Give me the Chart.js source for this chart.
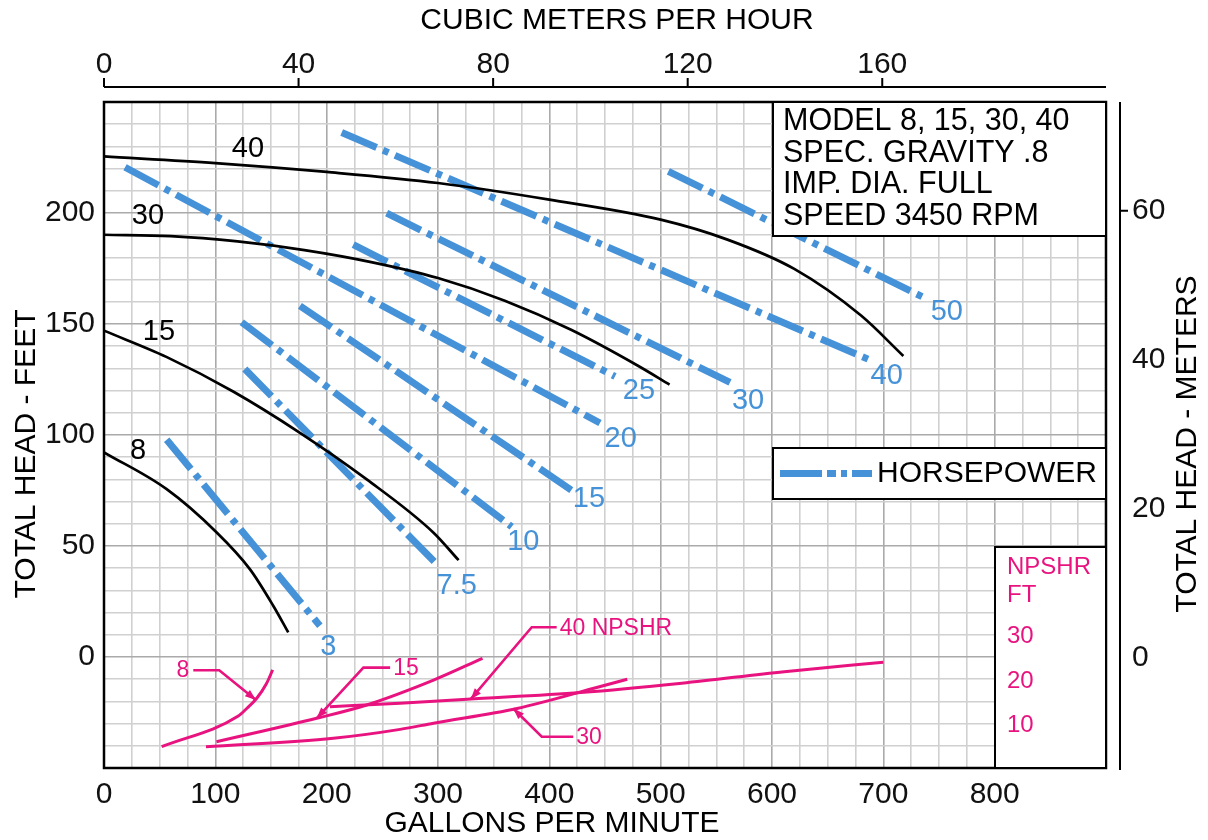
<!DOCTYPE html>
<html><head><meta charset="utf-8">
<script src="https://cdn.jsdelivr.net/npm/chart.js@4.4.1/dist/chart.umd.min.js"></script>
<style>html,body{margin:0;padding:0;background:#fff;}canvas{display:block;}</style>
</head><body>
<canvas id="c" width="1208" height="840"></canvas>
<script>
// ---------------- DATA ----------------
const gpmTickLabels = [0, 100, 200, 300, 400, 500, 600, 700, 800];
const feetTickLabels = [0, 50, 100, 150, 200];
const m3hTickLabels = [0, 40, 80, 120, 160];
const meterTickLabels = [0, 20, 40, 60];
const npshrTickLabels = [30, 20, 10];

// Head curves: [GPM, feet]
const head8  = [[0,92.2],[56,75.7],[101,56.2],[131,39.6],[152,23.1],[165.5,11.1]];
const head15 = [[0,147],[56,135.2],[116,119.6],[176,101],[236,80],[296,56],[318.5,43.6]];
const head30 = [[0,190.2],[60,189.6],[120,187.2],[180,183.3],[240,177.9],[300,170.7],[360,160.5],[420,147.3],[480,131.1],[508,122.7]];
const head40 = [[0,225.5],[100,222.5],[200,218.5],[300,213.5],[400,206],[500,197],[560,188],[620,174.8],[680,153.8],[718,135.6]];
const headNames = ['8', '15', '30', '40'];
const headLabelPos = [[30.5,92.9],[49.4,146.4],[39.5,198.8],[129.3,228.8]];

// Horsepower lines: start / end [GPM, feet]
const hpNames    = ['3','7.5','10','15','20','25','30','40','50'];
const hpStart    = [[56.3,97.9],[126.5,129.7],[123.7,150.8],[176,158.2],[18.9,220.6],[223.9,185.7],[253.9,199.9],[213.5,236.3],[506.9,218.8]];
const hpEnd      = [[193.9,14.1],[300.3,41.1],[366.2,58.7],[420,75.1],[445.5,105.4],[459,126.4],[562.3,123.7],[688,133.8],[738.9,161.3]];
const hpLabelPos = [[201.5,4.4],[316.8,32.1],[376.6,51.7],[435.6,71.2],[464.1,98.2],[480.5,120],[578.5,115.3],[703,126.7],[757,155.4]];

// NPSHR curves: [GPM, NPSHR ft]
const npshr8  = [[51.8,4.8],[120.6,11.7],[128.2,13.4],[137.2,15.7],[146.1,19.1],[151.5,22.1]];
const npshr15 = [[101,5.9],[191,11.2],[236,14.2],[296,19.8],[340,24.7]];
const npshr30 = [[91.6,4.8],[206,6.7],[266,8.7],[296,10.1],[371,13.4],[445,18.3],[470,20]];
const npshr40 = [[203,13.8],[266,14.6],[326,15.5],[428,17],[519,19.1],[611,21.7],[700,23.8]];

// NPSHR leader lines: [GPM, NPSHR ft]
const leaderNames = ['8', '15', '40 NPSHR', '30'];
const leader8  = [[80.2,22.0],[103.5,22.0],[136.5,15.3]];
const leader15 = [[257,22.6],[233,22.6],[191,11.2]];
const leader40 = [[406.6,31.7],[384.2,31.7],[329.4,15.5]];
const leader30 = [[421.5,7.05],[393.2,7.05],[367.6,13.4]];

const infoLines = ['MODEL 8, 15, 30, 40', 'SPEC. GRAVITY .8', 'IMP. DIA. FULL', 'SPEED 3450 RPM'];

// ---------------- STYLE ----------------
const FONT = 'Liberation Sans, Arial, Helvetica, sans-serif';
const BLUE = '#4592d8';
const PINK = '#e8137f';
const HP_DASH = [38, 7, 6, 7];

const pts = a => a.map(p => ({x: p[0], y: p[1]}));

const datasets = [];
[head8, head15, head30, head40].forEach(h => datasets.push({
  data: pts(h), borderColor: '#000', borderWidth: 2.7, pointRadius: 0,
  cubicInterpolationMode: 'monotone', yAxisID: 'y', xAxisID: 'x'
}));
hpStart.forEach((s, i) => datasets.push({
  data: pts([s, hpEnd[i]]), borderColor: BLUE, borderWidth: 7, pointRadius: 0,
  borderDash: HP_DASH, borderCapStyle: 'butt', yAxisID: 'y', xAxisID: 'x'
}));
[npshr8, npshr15, npshr30, npshr40].forEach(n => datasets.push({
  data: pts(n), borderColor: PINK, borderWidth: 3, pointRadius: 0,
  cubicInterpolationMode: 'monotone', yAxisID: 'yN', xAxisID: 'x'
}));
const leaders = [leader8, leader15, leader40, leader30];
leaders.forEach(l => datasets.push({
  data: pts(l), borderColor: PINK, borderWidth: 2.6, pointRadius: 0,
  tension: 0, yAxisID: 'yN', xAxisID: 'x'
}));

const decor = {
  id: 'decor',
  afterDatasetsDraw(chart) {
    const ctx = chart.ctx, a = chart.chartArea;
    const sx = chart.scales.x, sy = chart.scales.y, sn = chart.scales.yN, st = chart.scales.xTop, sm = chart.scales.yM;
    ctx.save();
    // arrowheads on leaders
    ctx.fillStyle = PINK;
    leaders.forEach(l => {
      const p1 = l[l.length - 2], p2 = l[l.length - 1];
      const x1 = sx.getPixelForValue(p1[0]), y1 = sn.getPixelForValue(p1[1]);
      const x2 = sx.getPixelForValue(p2[0]), y2 = sn.getPixelForValue(p2[1]);
      const ang = Math.atan2(y2 - y1, x2 - x1);
      ctx.save(); ctx.translate(x2, y2); ctx.rotate(ang);
      ctx.beginPath(); ctx.moveTo(0, 0); ctx.lineTo(-11, -4); ctx.lineTo(-11, 4); ctx.closePath(); ctx.fill();
      ctx.restore();
    });
    // leader labels
    ctx.font = '23px ' + FONT; ctx.textBaseline = 'middle';
    leaders.forEach((l, i) => {
      const p = l[0];
      const x = sx.getPixelForValue(p[0]), y = sn.getPixelForValue(p[1]);
      if (i === 0) { ctx.textAlign = 'right'; ctx.fillText(leaderNames[i], x - 4, y); }
      else { ctx.textAlign = 'left'; ctx.fillText(leaderNames[i], x + 3, y + 1); }
    });
    // HP labels
    ctx.fillStyle = BLUE; ctx.font = '29px ' + FONT; ctx.textAlign = 'center';
    hpNames.forEach((n, i) => ctx.fillText(n, sx.getPixelForValue(hpLabelPos[i][0]), sy.getPixelForValue(hpLabelPos[i][1])));
    // head labels
    ctx.fillStyle = '#000'; ctx.font = '29px ' + FONT;
    headNames.forEach((n, i) => ctx.fillText(n, sx.getPixelForValue(headLabelPos[i][0]), sy.getPixelForValue(headLabelPos[i][1])));

    // frame
    ctx.strokeStyle = '#000'; ctx.lineWidth = 2.5;
    ctx.strokeRect(a.left, a.top, a.right - a.left, a.bottom - a.top);

    // info box
    ctx.fillStyle = '#fff'; ctx.lineWidth = 2;
    const bx = a.right - 333, by = a.top, bw = 333, bh = 134;
    ctx.fillRect(bx, by, bw, bh); ctx.strokeRect(bx, by, bw, bh);
    ctx.fillStyle = '#000'; ctx.font = '30.5px ' + FONT; ctx.textAlign = 'left'; ctx.textBaseline = 'middle';
    infoLines.forEach((t, i) => ctx.fillText(t, bx + 10, by + 20 + i * 31.5));

    // horsepower legend box
    const lx = a.right - 333, ly = a.top + 346, lw = 333, lh = 51;
    ctx.fillStyle = '#fff'; ctx.fillRect(lx, ly, lw, lh); ctx.strokeRect(lx, ly, lw, lh);
    ctx.save();
    ctx.strokeStyle = BLUE; ctx.lineWidth = 7; ctx.lineCap = 'butt';
    ctx.setLineDash([42, 5, 9, 5, 6, 5, 40]);
    ctx.beginPath(); ctx.moveTo(lx + 7, ly + 25.5); ctx.lineTo(lx + 99, ly + 25.5); ctx.stroke();
    ctx.restore();
    ctx.fillStyle = '#000'; ctx.font = '30px ' + FONT;
    ctx.fillText('HORSEPOWER', lx + 104, ly + 26);

    // NPSHR box
    const nx = a.right - 111, ny = a.top + 445;
    ctx.fillStyle = '#fff'; ctx.fillRect(nx, ny, a.right - nx, a.bottom - ny);
    ctx.strokeStyle = '#000'; ctx.lineWidth = 2; ctx.strokeRect(nx, ny, a.right - nx, a.bottom - ny);
    ctx.fillStyle = PINK; ctx.font = '24px ' + FONT;
    ctx.fillText('NPSHR', nx + 12, ny + 20);
    ctx.fillText('FT', nx + 12, ny + 48);
    npshrTickLabels.forEach(v => ctx.fillText(String(v), nx + 12, sn.getPixelForValue(v) + 2));

    // top axis line and ticks
    ctx.strokeStyle = '#000'; ctx.lineWidth = 2;
    const ty = a.top - 15;
    ctx.beginPath(); ctx.moveTo(a.left, ty); ctx.lineTo(a.right, ty);
    m3hTickLabels.forEach(v => { const x = st.getPixelForValue(v); ctx.moveTo(x, ty); ctx.lineTo(x, ty - 9); });
    ctx.stroke();
    // right axis line
    const rx = a.right + 14;
    ctx.beginPath(); ctx.moveTo(rx, a.top); ctx.lineTo(rx, a.bottom + 2);
    const y60 = sm.getPixelForValue(60); ctx.moveTo(rx, y60); ctx.lineTo(rx + 8, y60);
    ctx.stroke();

    // axis titles
    ctx.fillStyle = '#000'; ctx.font = '30px ' + FONT; ctx.textAlign = 'center'; ctx.textBaseline = 'middle';
    ctx.fillText('CUBIC METERS PER HOUR', 617, 21);
    ctx.fillText('GALLONS PER MINUTE', 552, 824);
    ctx.save(); ctx.translate(27, 454); ctx.rotate(-Math.PI / 2); ctx.fillText('TOTAL HEAD - FEET', 0, 0); ctx.restore();
    ctx.save(); ctx.translate(1188, 444); ctx.rotate(-Math.PI / 2); ctx.fillText('TOTAL HEAD - METERS', 0, 0); ctx.restore();
    ctx.restore();
  }
};

const tickFont = {family: FONT, size: 30};

new Chart(document.getElementById('c'), {
  type: 'line',
  data: {datasets},
  options: {
    responsive: false, animation: false, devicePixelRatio: 1,
    layout: {padding: 0},
    plugins: {legend: {display: false}, tooltip: {enabled: false}},
    elements: {line: {fill: false}},
    scales: {
      x: {
        type: 'linear', position: 'bottom', min: 0, max: 900,
        ticks: {stepSize: 25, autoSkip: false, maxRotation: 0, minRotation: 0, padding: 9, color: '#111', font: tickFont,
          callback: v => gpmTickLabels.includes(v) ? String(v) : ''},
        grid: {drawTicks: false, lineWidth: 1.6, color: c => (c.tick && c.tick.value % 100 === 0) ? '#aaaaaa' : '#d0d0d0'},
        border: {display: false},
        afterFit: s => { s.height = 72; }
      },
      y: {
        type: 'linear', position: 'left', min: -50, max: 250,
        ticks: {stepSize: 10, autoSkip: false, padding: 9, color: '#111', font: tickFont,
          callback: v => feetTickLabels.includes(v) ? String(v) : ''},
        grid: {drawTicks: false, lineWidth: 1.6, color: c => (c.tick && c.tick.value % 50 === 0) ? '#aaaaaa' : '#d0d0d0'},
        border: {display: false},
        afterFit: s => { s.width = 104; }
      },
      xTop: {
        type: 'linear', position: 'top', min: 0, max: 206,
        afterBuildTicks: s => { s.ticks = m3hTickLabels.map(v => ({value: v})); },
        ticks: {autoSkip: false, maxRotation: 0, minRotation: 0, padding: 19, color: '#111', font: tickFont},
        grid: {display: false, drawTicks: false},
        border: {display: false},
        afterFit: s => { s.height = 102; }
      },
      yM: {
        type: 'linear', position: 'right', min: -14.8, max: 74.6,
        afterBuildTicks: s => { s.ticks = meterTickLabels.map(v => ({value: v})); },
        ticks: {autoSkip: false, padding: 26, color: '#111', font: tickFont},
        grid: {display: false, drawTicks: false},
        border: {display: false},
        afterFit: s => { s.width = 102; }
      },
      yN: {type: 'linear', display: false, min: 0, max: 150}
    }
  },
  plugins: [decor]
});
</script>
</body></html>
